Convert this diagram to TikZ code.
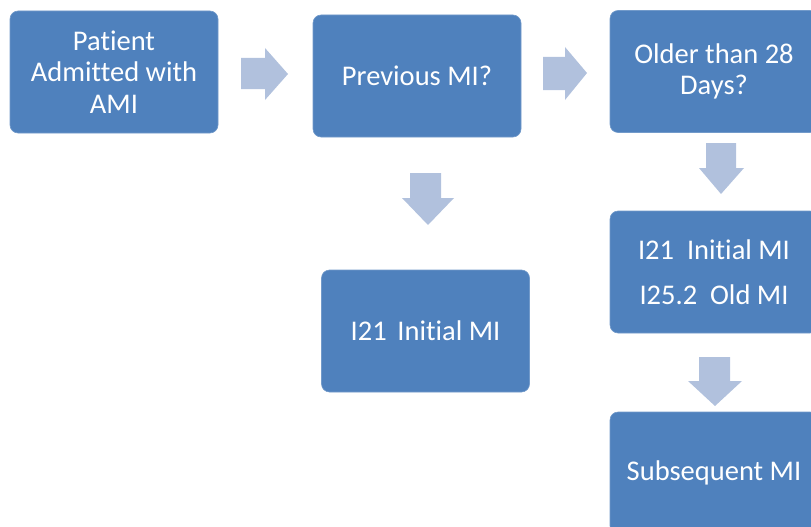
\documentclass[tikz,border=0pt]{standalone}
\usepackage{fontspec}
\setmainfont{Carlito}[Ligatures=NoCommon]
\usetikzlibrary{positioning}
\definecolor{boxblue}{HTML}{4F81BD}
\definecolor{arrowblue}{HTML}{B1C1DD}
\tikzset{
  stepbox/.style={rectangle,rounded corners=8pt,fill=boxblue,draw=boxblue!80!white,line width=0.6pt,
    minimum width=208pt,minimum height=122pt,align=center,text=white,
    font=\fontsize{28.5}{31.5}\selectfont},
  arrowfill/.style={fill=arrowblue}
}
\begin{document}
\begin{tikzpicture}[x=1pt,y=-1pt]
  \useasboundingbox (0,0) rectangle (811,527);

  \node[stepbox] (admit) at (114,72) {Patient\\Admitted with\\AMI}; % start
  \node[stepbox] (prev) at (417,76) {Previous MI?};
  \node[stepbox] (older) at (714,71.5) {Older than 28\\Days?};
  \node[stepbox] (codes) at (714,272) {I21\ \ Initial MI\\[14pt]I25.2\ \ Old MI};
  \node[stepbox] (subs) at (714,473) {Subsequent MI};
  \node[stepbox] (initial) at (425.5,331) {I21\hspace{0.15em} Initial MI};

  % block arrows
  \fill[arrowfill] (241,58) -- (265,58) -- (265,48) -- (288,74) -- (265,100) -- (265,89) -- (241,89) -- cycle; % admit -> prev
  \fill[arrowfill] (543,57) -- (565,57) -- (565,47) -- (587,73) -- (565,100) -- (565,90) -- (543,90) -- cycle; % prev -> older
  \fill[arrowfill] (410,173) -- (441,173) -- (441,198) -- (454,198) -- (428,225) -- (402,198) -- (410,198) -- cycle; % prev -> initial
  \fill[arrowfill] (706,143) -- (736,143) -- (736,168) -- (744,168) -- (721,194) -- (699,168) -- (706,168) -- cycle; % older -> codes
  \fill[arrowfill] (699,357) -- (730,357) -- (730,381) -- (742,381) -- (715,406) -- (688,381) -- (699,381) -- cycle; % codes -> subs
\end{tikzpicture}
\end{document}
